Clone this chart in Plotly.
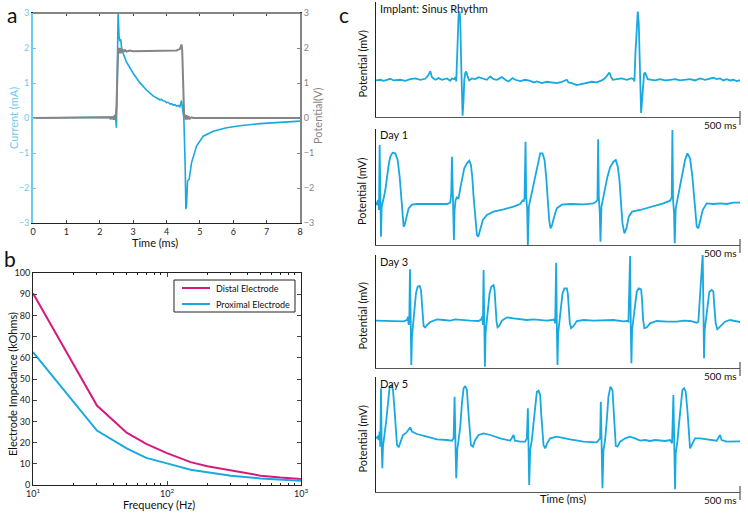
import plotly.graph_objects as go

W, H = 748, 513
FONT = "Lato"
BLUE = "#18a9e0"
LIGHTBLUE = "#6ccbef"
GRAY = "#858585"
MAGENTA = "#d4197f"

# ---------------- Panel a: stimulation pulse ----------------
cur_time_ms = [0, 2.2, 2.3, 2.33, 2.36, 2.39, 2.42, 2.44, 2.46, 2.48, 2.5, 2.52, 2.55, 2.58, 2.6,
               2.63, 2.65, 2.7, 2.8, 3.0, 3.2, 3.4, 3.6, 3.8, 3.85, 3.9, 3.95, 4.0, 4.05, 4.1,
               4.15, 4.2, 4.25, 4.3, 4.35, 4.4, 4.45, 4.48, 4.52, 4.56, 4.58, 4.6, 4.63, 4.68,
               4.75, 4.9, 5.1, 5.4, 5.8, 6.2, 6.8, 7.4, 8.0]
cur_mA = [0, 0, 0.02, -0.02, 0.04, -0.03, 0.06, -0.05, 0.1, -0.05, -0.28, 1.0, 3.0, 2.3, 2.2,
          2.25, 2.03, 1.85, 1.6, 1.28, 1.01, 0.8, 0.63, 0.52, 0.53, 0.49, 0.48, 0.44, 0.45, 0.4,
          0.41, 0.37, 0.38, 0.34, 0.36, 0.32, 0.5, 0.27, 0.0, -1.4, -2.6, -2.5, -1.8, -1.75,
          -1.28, -0.8, -0.52, -0.38, -0.28, -0.22, -0.16, -0.12, -0.09]

pot_time_ms = [0, 2.2, 2.3, 2.32, 2.35, 2.38, 2.41, 2.43, 2.45, 2.47, 2.48, 2.5, 2.55, 2.57,
               2.59, 2.61, 2.63, 2.65, 2.67, 2.7, 2.73, 2.76, 2.8, 2.9, 3.0, 3.5, 4.0, 4.3,
               4.4, 4.45, 4.47, 4.5, 4.53, 4.55, 4.57, 4.6, 4.63, 4.66, 4.7, 4.75, 4.8, 8.0]
pot_V = [0, 0, 0.02, -0.02, 0.03, -0.03, 0.05, -0.05, 0.08, -0.05, 0.15, 0.3, 1.9, 2.0,
         1.85, 2.0, 1.85, 1.97, 1.88, 1.95, 1.89, 1.94, 1.9, 1.93, 1.91, 1.92, 1.92, 1.93,
         1.97, 2.1, 1.95, 0.8, 0.0, 0.1, -0.05, 0.08, -0.04, 0.05, -0.02, 0.02, 0, 0]

# ---------------- Panel b: impedance spectrum ----------------
freq_hz = [10, 30, 50, 70, 100, 150, 200, 300, 500, 700, 1000]
distal_kohm = [90.5, 37.5, 24.7, 19.4, 15.0, 10.8, 8.8, 6.7, 4.4, 3.5, 2.8]
proximal_kohm = [62.7, 25.7, 17.3, 12.8, 10.2, 7.2, 6.0, 4.4, 3.1, 2.5, 2.0]
legend_names = ["Distal Electrode", "Proximal Electrode"]
freq_major_ticks = [10, 100, 1000]
freq_major_labels = ["10<sup>1</sup>", "10<sup>2</sup>", "10<sup>3</sup>"]
freq_minor_ticks = [20, 30, 40, 50, 60, 70, 80, 90, 200, 300, 400, 500, 600, 700, 800, 900]

# ---------------- Panel c: electrograms ----------------
implant_ms = [0, 13, 23, 43, 53, 73, 88, 103, 118, 133, 148, 158, 163, 168, 178, 188, 198, 213,
              223, 228, 235, 239, 241, 245, 248, 251, 253, 256, 258, 260, 263, 265, 268, 271,
              275, 280, 288, 298, 308, 323, 333, 343, 353, 363, 378, 388, 398, 410, 418, 433,
              448, 463, 473, 483, 498, 513, 528, 543, 558, 573, 578, 588, 603, 618, 633, 648,
              663, 678, 688, 695, 701, 705, 711, 723, 738, 753, 763, 768, 773, 776, 779, 783,
              786, 789, 792, 794, 796, 799, 802, 805, 808, 811, 816, 828, 838, 853, 868, 883,
              898, 913, 928, 943, 958, 973, 988, 998, 1013, 1023, 1033, 1043, 1053, 1063, 1073,
              1083, 1098, 1106]
implant_mv = [0, 2, -1, 5, 0, 2, -1, 4, 6, 2, 5, 17, 28, 10, 2, 7, 2, 6, -1, 6, 4, 10, -3, 92,
              197, 207, 182, 42, -78, -106, -58, 2, 22, 27, 12, 0, 6, 4, 10, 6, 2, 12, 4, 2, 10,
              2, -3, 7, 2, -2, 2, -1, -6, -3, -8, -4, -6, -8, -4, 2, -6, -8, -14, -10, -8, -4,
              -6, 0, 7, 17, 24, 12, 2, 4, 6, 2, 6, 7, 4, -3, 82, 182, 207, 172, 42, -68, -98,
              -58, 2, 20, 24, 17, 4, 2, 0, 4, 0, 2, 4, 0, 2, 4, 0, 6, 2, 4, 8, 4, 6, 0, 4, 0, 2,
              -2, 2, 1]

day1_ms = [0, 3, 6, 9, 11, 13, 15, 17, 20, 23, 28, 33, 38, 43, 50, 58, 65, 71, 75, 79, 83, 86,
           91, 98, 108, 123, 153, 183, 213, 223, 226, 228, 230, 232, 234, 236, 239, 243, 248,
           253, 259, 265, 273, 280, 285, 289, 293, 298, 303, 307, 313, 321, 333, 353, 383, 413,
           433, 441, 443, 446, 449, 451, 454, 456, 459, 463, 471, 478, 485, 493, 500, 506, 511,
           515, 520, 524, 528, 535, 543, 558, 583, 623, 653, 661, 665, 667, 669, 672, 674, 677,
           681, 688, 695, 703, 713, 720, 726, 731, 735, 740, 746, 752, 759, 769, 793, 823, 863,
           883, 888, 890, 892, 895, 897, 900, 905, 913, 921, 928, 935, 943, 950, 955, 959, 963,
           968, 973, 981, 993, 1013, 1033, 1053, 1073, 1093, 1103]
day1_mv = [5, -5, 10, -20, 175, 10, -100, -10, 10, 15, 40, 80, 115, 140, 152, 150, 130, 80, 20,
           -40, -70, -65, -40, -15, -4, -2, -2, -3, -2, 2, 30, 140, 20, -20, -110, -20, 10, 18,
           15, 45, 80, 105, 120, 128, 115, 80, 20, -50, -95, -100, -80, -50, -35, -25, -18, -10,
           -2, 10, 5, 15, 185, 20, -20, -125, -10, 10, 50, 80, 120, 150, 150, 130, 80, 20, -50,
           -75, -68, -40, -15, -4, -2, -3, 0, 5, 10, 192, 20, -30, -115, -10, 10, 40, 80, 108,
           125, 130, 110, 70, 10, -60, -90, -75, -40, -25, -20, -12, 0, 8, 18, 220, 10, -30,
           -120, -15, 10, 50, 95, 130, 150, 135, 80, 20, -40, -70, -75, -50, -20, 0, -2, 0, -2,
           2, 2, 8]

day3_ms = [0, 23, 53, 83, 93, 96, 98, 100, 102, 104, 106, 108, 111, 115, 120, 125, 131, 135,
           138, 140, 143, 148, 153, 163, 183, 203, 223, 238, 253, 283, 308, 316, 319, 321, 323,
           325, 327, 329, 333, 337, 341, 346, 353, 356, 359, 362, 365, 370, 378, 393, 413, 433,
           453, 473, 493, 513, 528, 535, 538, 541, 543, 545, 547, 551, 555, 560, 566, 573, 576,
           579, 582, 586, 593, 603, 623, 653, 683, 713, 743, 753, 758, 763, 765, 767, 769, 773,
           778, 783, 789, 796, 799, 802, 806, 813, 823, 843, 873, 903, 923, 943, 963, 968, 981,
           983, 985, 987, 991, 996, 1001, 1008, 1013, 1016, 1020, 1025, 1033, 1048, 1063, 1083,
           1098]
day3_mv = [0, 0, -1, -2, 2, 12, -13, 2, 154, -28, -133, -48, -8, 42, 82, 102, 104, 92, 42, 2,
           -16, -20, -13, -4, 4, 2, 0, 4, 2, 0, -1, 4, 12, -13, 152, -28, -138, -38, 2, 42, 82,
           102, 107, 92, 42, -3, -20, -16, 0, 10, 7, 4, 2, 4, 2, 0, 2, 4, -8, 174, -18, -133,
           -38, -3, 42, 82, 97, 97, 82, 32, -8, -23, -16, -1, 2, 0, 0, 2, -2, -1, -3, 194, -18,
           -128, -28, 2, 42, 87, 97, 94, 62, 2, -23, -20, -8, -1, -3, -3, 0, -1, -6, -3, 200,
           -23, -113, -28, 2, 47, 87, 92, 87, 42, -8, -26, -18, -3, 2, -3, -5]

day5_ms = [0, 5, 8, 11, 13, 15, 17, 19, 21, 25, 31, 37, 41, 47, 51, 55, 59, 63, 68, 73, 81, 91,
           98, 103, 108, 123, 153, 183, 213, 228, 233, 236, 239, 241, 244, 248, 253, 258, 263,
           268, 273, 277, 281, 285, 291, 298, 308, 323, 343, 373, 403, 410, 413, 417, 433, 448,
           453, 456, 458, 460, 463, 468, 473, 478, 483, 488, 493, 496, 500, 503, 508, 515, 523,
           543, 583, 623, 663, 673, 675, 678, 680, 683, 688, 693, 698, 704, 710, 713, 716, 720,
           725, 733, 748, 763, 778, 793, 808, 823, 838, 853, 868, 883, 889, 893, 895, 898, 900,
           905, 910, 915, 920, 925, 930, 935, 939, 943, 948, 958, 973, 1003, 1023, 1033, 1038,
           1053, 1073, 1103]
day5_mv = [5, 10, 0, 25, -20, 155, -15, -85, -20, 10, 60, 120, 160, 165, 150, 100, 40, -15, -22,
           -5, 15, 22, 30, 38, 25, 18, 10, 2, 0, -2, 5, 130, -30, -115, -30, -5, 40, 110, 155,
           162, 150, 90, 20, -15, -20, 0, 15, 20, 15, 5, -2, 10, 15, -2, -5, -5, 5, 95, -30,
           -135, -30, 0, 50, 110, 145, 148, 135, 80, 15, -15, -25, -8, 5, 10, 2, -5, -7, 5, 115,
           -50, -145, -30, 0, 60, 130, 160, 150, 100, 30, -18, -20, -5, 5, 10, 5, -2, 0, -3, 0,
           -2, -3, 0, -10, 135, -30, -148, -40, -5, 50, 110, 150, 155, 145, 90, 20, -25, -15, 5,
           5, 0, -2, 15, 0, -5, -4, -4]

c_titles = ["Implant: Sinus Rhythm", "Day 1", "Day 3", "Day 5"]
c_series = [(implant_ms, implant_mv), (day1_ms, day1_mv), (day3_ms, day3_mv), (day5_ms, day5_mv)]
c_yranges = [[-110, 236], [-125, 223], [-142, 197], [-156, 189]]
c_xrange = [0, 1093]


def fx(p):
    return p / W


def fy(p):
    return 1 - p / H


fig = go.Figure()

# Panel a traces
fig.add_trace(go.Scatter(x=cur_time_ms, y=cur_mA, mode="lines", line=dict(color=BLUE, width=1.6),
                         xaxis="x", yaxis="y", showlegend=False))
fig.add_trace(go.Scatter(x=pot_time_ms, y=pot_V, mode="lines", line=dict(color=GRAY, width=2),
                         xaxis="x", yaxis="y2", showlegend=False))

# Panel b traces
fig.add_trace(go.Scatter(x=freq_hz, y=distal_kohm, mode="lines", name=legend_names[0],
                         line=dict(color=MAGENTA, width=2), xaxis="x3", yaxis="y3", showlegend=False))
fig.add_trace(go.Scatter(x=freq_hz, y=proximal_kohm, mode="lines", name=legend_names[1],
                         line=dict(color=BLUE, width=2), xaxis="x3", yaxis="y3", showlegend=False))

# Panel c traces
for i, (t, v) in enumerate(c_series):
    fig.add_trace(go.Scatter(x=t, y=v, mode="lines", line=dict(color=BLUE, width=1.8),
                             xaxis=f"x{4 + i}", yaxis=f"y{4 + i}", showlegend=False))

tickf = dict(family=FONT, size=9, color="#222")
layout = dict(
    width=W, height=H, margin=dict(l=0, r=0, t=0, b=0),
    paper_bgcolor="white", plot_bgcolor="white",
    font=dict(family=FONT, color="#222"),
    showlegend=False,
    xaxis=dict(domain=[fx(33), fx(300)], range=[0, 8], anchor="y", tickvals=list(range(9)),
               ticks="inside", ticklen=3, showline=True, linecolor="#222", linewidth=1,
               mirror="ticks", showgrid=False, zeroline=False, tickfont=tickf, automargin=False),
    yaxis=dict(domain=[fy(223), fy(13)], range=[-3, 3], dtick=1, ticks="inside", ticklen=3,
               tickcolor=LIGHTBLUE, showline=True, linecolor=LIGHTBLUE, linewidth=2,
               showgrid=False, zeroline=False, tickfont=dict(family=FONT, size=9, color=LIGHTBLUE),
               automargin=False),
    yaxis2=dict(overlaying="y", anchor="x", side="right", range=[-3, 3], dtick=1, ticks="inside",
                ticklen=3, tickcolor=GRAY, showline=True, linecolor=GRAY, linewidth=2,
                showgrid=False, zeroline=False, tickfont=dict(family=FONT, size=9, color=GRAY),
                automargin=False),
    xaxis3=dict(domain=[fx(33), fx(301)], type="log", range=[1, 3], anchor="y3",
                tickvals=freq_major_ticks, ticktext=freq_major_labels,
                ticks="inside", ticklen=4, showline=True, linecolor="#222", mirror="ticks",
                minor=dict(tickvals=freq_minor_ticks, ticks="inside", ticklen=2, tickcolor="#222",
                           showgrid=False),
                showgrid=False, zeroline=False, tickfont=tickf, automargin=False),
    yaxis3=dict(domain=[fy(485), fy(273)], range=[0, 100], dtick=10, anchor="x3", ticks="inside",
                ticklen=4, showline=True, linecolor="#222", mirror="ticks", showgrid=False,
                zeroline=False, tickfont=tickf, automargin=False),
)

c_doms = [(2, 117), (129, 245), (255, 368), (377, 492)]
for i, (top, bot) in enumerate(c_doms):
    layout[f"xaxis{4 + i}"] = dict(domain=[fx(376), fx(740)], range=c_xrange, anchor=f"y{4 + i}",
                                   showline=True, linecolor="#555", linewidth=1.2, ticks="",
                                   showticklabels=False, showgrid=False, zeroline=False,
                                   automargin=False)
    layout[f"yaxis{4 + i}"] = dict(domain=[fy(bot), fy(top)], range=c_yranges[i], anchor=f"x{4 + i}",
                                   showline=True, linecolor="#222", linewidth=1.2, ticks="",
                                   showticklabels=False, showgrid=False, zeroline=False,
                                   automargin=False)

fig.update_layout(**layout)


def text(t, x, y, size=11, color="#111", xanchor="center", angle=0):
    return dict(text=t, x=fx(x), y=fy(y), xref="paper", yref="paper", showarrow=False,
                font=dict(family=FONT, size=size, color=color), xanchor=xanchor,
                yanchor="middle", textangle=angle)


ann = []
ann.append(text("a", 12, 14, size=21))
ann.append(text("b", 10, 258, size=21))
ann.append(text("c", 344, 14, size=21))
ann.append(text("Current (mA)", 13, 118, color=LIGHTBLUE, angle=-90))
ann.append(text("Potential(V)", 317, 116, color=GRAY, angle=-90))
ann.append(text("Time (ms)", 155, 242))
ann.append(text("Frequency (Hz)", 159, 504))
ann.append(text("Electrode Impedance (kOhms)", 12, 384, angle=-90))
for i, name in enumerate(legend_names):
    ann.append(text(name, 214, 288 + 16 * i, size=9, xanchor="left"))
for i, (top, bot) in enumerate(c_doms):
    ann.append(text(c_titles[i], 378, top + 6, xanchor="left"))
    ann.append(text("500 ms", 739, bot + 8, size=10, xanchor="right"))
    ann.append(text("Potential (mV)", 362, (top + bot) / 2 + 4, angle=-90))
ann.append(text("Time (ms)", 563, 498))

shapes = [dict(type="line", xref="paper", yref="paper", x0=fx(33), x1=fx(300), y0=fy(13), y1=fy(13),
               line=dict(color=GRAY, width=2))]
# legend box for panel b
shapes.append(dict(type="rect", xref="paper", yref="paper", x0=fx(174), x1=fx(295), y0=fy(312),
                   y1=fy(280), line=dict(color="#222", width=1), fillcolor="white"))
for i, col in enumerate([MAGENTA, BLUE]):
    shapes.append(dict(type="line", xref="paper", yref="paper", x0=fx(182), x1=fx(210),
                       y0=fy(288 + 16 * i), y1=fy(288 + 16 * i), line=dict(color=col, width=2)))
for top, bot in c_doms:
    shapes.append(dict(type="line", xref="paper", yref="paper", x0=fx(740), x1=fx(740),
                       y0=fy(bot - 6), y1=fy(bot + 8), line=dict(color="#555", width=1.2)))

fig.update_layout(annotations=ann, shapes=shapes)

fig.write_html("out.html", config={"displayModeBar": False},
               post_script="document.body.style.margin='0';")
